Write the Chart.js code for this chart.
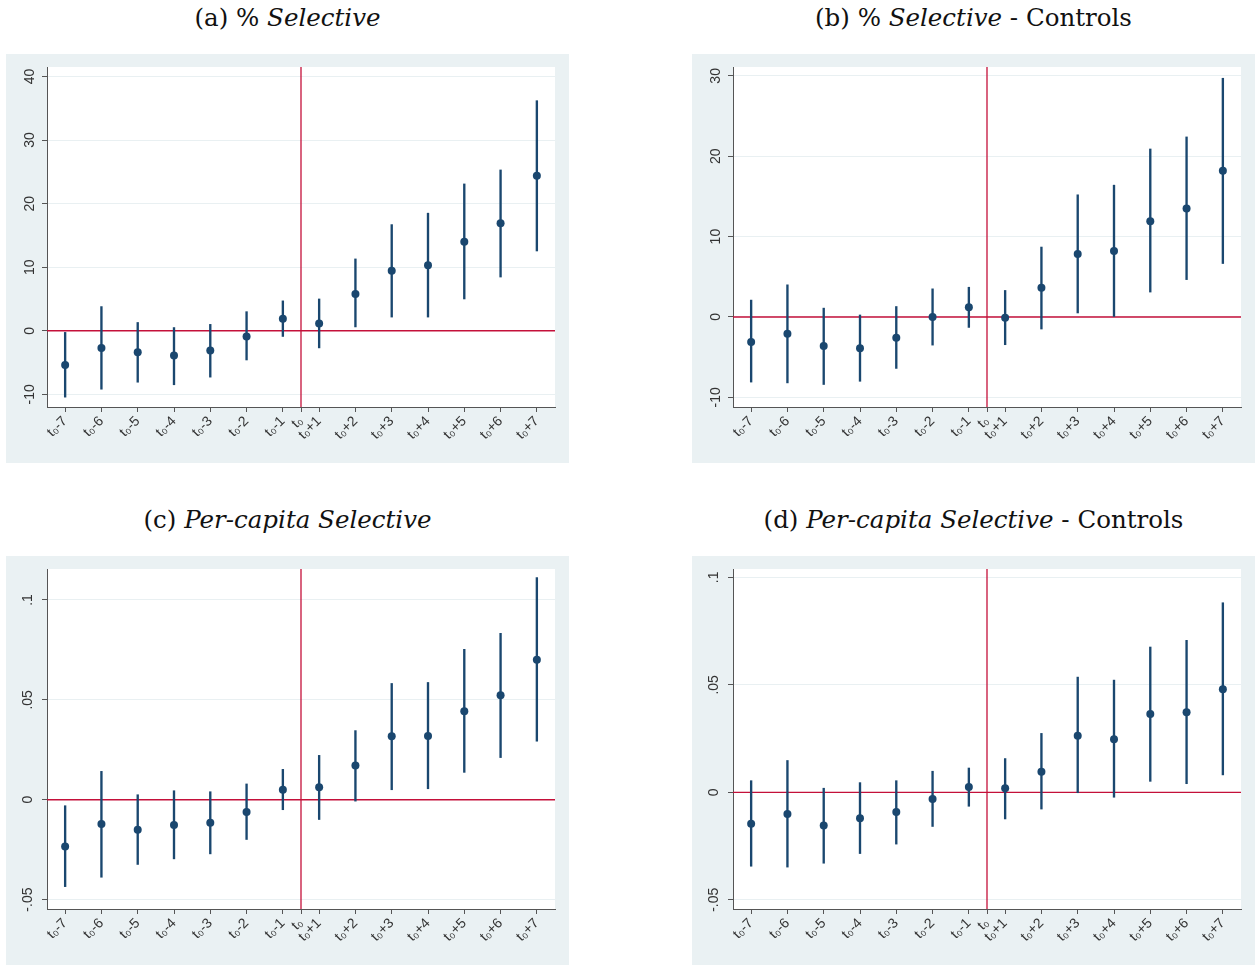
<!DOCTYPE html>
<html>
<head>
<meta charset="utf-8">
<script src="https://cdn.jsdelivr.net/npm/chart.js@4.4.0/dist/chart.umd.min.js"></script>
<style>
body{margin:0;background:#fff;width:1260px;height:967px;position:relative;overflow:hidden}
.ttl{position:absolute;width:563px;text-align:center;font-family:"DejaVu Serif",serif;font-size:24.5px;line-height:28px;color:#111;white-space:nowrap}
.box{position:absolute;width:563px;height:409px;background:#eaf1f3}
</style>
</head>
<body>
<div class="ttl" style="left:6px;top:4px">(a) % <i>Selective</i></div>
<div class="ttl" style="left:692px;top:4px">(b) % <i>Selective</i> - Controls</div>
<div class="ttl" style="left:6px;top:506px">(c) <i>Per-capita Selective</i></div>
<div class="ttl" style="left:692px;top:506px">(d) <i>Per-capita Selective</i> - Controls</div>

<div class="box" style="left:6px;top:54px"><canvas id="ca" width="563" height="409"></canvas></div>
<div class="box" style="left:692px;top:54px"><canvas id="cb" width="563" height="409"></canvas></div>
<div class="box" style="left:6px;top:556px"><canvas id="cc" width="563" height="409"></canvas></div>
<div class="box" style="left:692px;top:556px"><canvas id="cd" width="563" height="409"></canvas></div>

<script>
// periods around the event, t0 sits between t0-1 and t0+1
var periods = [1, 2, 3, 4, 5, 6, 7, 8, 9, 10, 11, 12, 13, 14];
var tickPos = [1, 2, 3, 4, 5, 6, 7, 7.5, 8, 9, 10, 11, 12, 13, 14];
var tickLabels = ["t₀-7", "t₀-6", "t₀-5", "t₀-4", "t₀-3", "t₀-2", "t₀-1", "t₀",
	"t₀+1", "t₀+2", "t₀+3", "t₀+4", "t₀+5", "t₀+6", "t₀+7"];
var eventPos = 7.5;

// (a) % Selective
var pctCoef = [-5.4, -2.7, -3.4, -3.9, -3.1, -0.9, 1.9, 1.15, 5.8, 9.45, 10.3, 14.0, 16.9, 24.4];
var pctLow = [-10.45, -9.2, -8.1, -8.5, -7.3, -4.6, -0.9, -2.7, 0.6, 2.15, 2.15, 5.0, 8.45, 12.55];
var pctHigh = [-0.26, 3.8, 1.3, 0.5, 1.0, 3.0, 4.7, 5.0, 11.3, 16.7, 18.5, 23.1, 25.3, 36.2];

// (b) % Selective - Controls
var pctCtrlCoef = [-3.1, -2.1, -3.6, -3.9, -2.6, 0.0, 1.2, -0.1, 3.65, 7.85, 8.2, 11.9, 13.5, 18.2];
var pctCtrlLow = [-8.1, -8.2, -8.4, -8.0, -6.4, -3.5, -1.3, -3.45, -1.5, 0.5, 0.0, 3.1, 4.65, 6.65];
var pctCtrlHigh = [2.1, 4.0, 1.1, 0.25, 1.3, 3.5, 3.7, 3.3, 8.7, 15.2, 16.4, 20.9, 22.4, 29.7];

// (c) Per-capita Selective
var pcCoef = [-0.0234, -0.0122, -0.015, -0.0127, -0.0115, -0.0062, 0.005, 0.0062, 0.0171, 0.0318, 0.0319, 0.0443, 0.0523, 0.0701];
var pcLow = [-0.0435, -0.0388, -0.0324, -0.0296, -0.0271, -0.0199, -0.005, -0.0099, -0.0007, 0.005, 0.0055, 0.0137, 0.0211, 0.0293];
var pcHigh = [-0.003, 0.0142, 0.0025, 0.0045, 0.004, 0.0079, 0.0152, 0.0222, 0.0346, 0.0582, 0.0587, 0.0753, 0.0833, 0.1112];

// (d) Per-capita Selective - Controls
var pcCtrlCoef = [-0.0146, -0.0101, -0.0155, -0.0121, -0.0092, -0.0031, 0.0025, 0.0019, 0.0096, 0.0263, 0.0247, 0.0364, 0.0373, 0.0479];
var pcCtrlLow = [-0.0344, -0.0348, -0.033, -0.0285, -0.0241, -0.0159, -0.0065, -0.0124, -0.0078, -0.0002, -0.0023, 0.0051, 0.004, 0.0081];
var pcCtrlHigh = [0.0054, 0.0148, 0.0019, 0.0045, 0.0054, 0.0098, 0.0113, 0.0157, 0.0274, 0.0536, 0.0522, 0.0676, 0.0707, 0.0882];

var navy = "#1a476f";
var red = "#c4103a";

function fmtY(v) {
	return String(Math.round(v * 10000) / 10000).replace(/^(-?)0\./, "$1.");
}

// white plot region like stata
var plotBg = {
	id: "plotBg",
	beforeDraw: function(chart) {
		var a = chart.chartArea, ctx = chart.ctx;
		ctx.save();
		ctx.fillStyle = "#ffffff";
		ctx.fillRect(a.left, a.top, a.right - a.left, a.bottom - a.top);
		ctx.restore();
	}
};

function makeChart(id, coef, low, high, yMin, yMax, yTicks) {
	var pts = [], bars = [];
	for (var i = 0; i < periods.length; i++) {
		pts.push({x: periods[i], y: coef[i]});
		bars.push({x: periods[i], y: [low[i], high[i]]});
	}
	return new Chart(document.getElementById(id), {
		type: "scatter",
		plugins: [plotBg],
		data: {
			datasets: [
				{type: "scatter", data: pts, pointRadius: 4, pointHoverRadius: 4,
					backgroundColor: navy, borderWidth: 0, order: 1},
				{type: "bar", data: bars, backgroundColor: navy, barThickness: 1.7,
					borderWidth: 0, order: 2},
				{type: "line", data: [{x: 0.5, y: 0}, {x: 14.5, y: 0}], borderColor: red,
					borderWidth: 1.3, pointRadius: 0, order: 3},
				{type: "line", data: [{x: eventPos, y: yMin}, {x: eventPos, y: yMax}], borderColor: red,
					borderWidth: 1.3, pointRadius: 0, order: 3}
			]
		},
		options: {
			responsive: false,
			animation: false,
			layout: {padding: {left: 0, top: 13, right: 14, bottom: 0}},
			plugins: {legend: {display: false}, tooltip: {enabled: false}},
			scales: {
				x: {
					type: "linear", min: 0.5, max: 14.5, offset: false,
					afterBuildTicks: function(s) { s.ticks = tickPos.map(function(v) { return {value: v}; }); },
					afterFit: function(s) { s.height = 56; },
					grid: {drawOnChartArea: false, offset: false, tickColor: "#555", tickLength: 5},
					border: {color: "#555", width: 1},
					ticks: {
						autoSkip: false, minRotation: 45, maxRotation: 45, padding: 1,
						color: "#333", font: {family: "Liberation Sans", size: 14},
						callback: function(v, i) { return tickLabels[i]; }
					}
				},
				y: {
					type: "linear", min: yMin, max: yMax,
					afterBuildTicks: function(s) { s.ticks = yTicks.map(function(v) { return {value: v}; }); },
					afterFit: function(s) { s.width = 41; },
					grid: {color: "#e9f0f2", lineWidth: 1, tickColor: "#555", tickLength: 5},
					border: {color: "#555", width: 1},
					ticks: {
						minRotation: 90, maxRotation: 90, crossAlign: "center", padding: 2,
						color: "#333", font: {family: "Liberation Sans", size: 14},
						callback: function(v) { return fmtY(v); }
					}
				}
			}
		}
	});
}

makeChart("ca", pctCoef, pctLow, pctHigh, -12, 41.5, [-10, 0, 10, 20, 30, 40]);
makeChart("cb", pctCtrlCoef, pctCtrlLow, pctCtrlHigh, -11.2, 31.1, [-10, 0, 10, 20, 30]);
makeChart("cc", pcCoef, pcLow, pcHigh, -0.0547, 0.1155, [-0.05, 0, 0.05, 0.1]);
makeChart("cd", pcCtrlCoef, pcCtrlLow, pcCtrlHigh, -0.0543, 0.1039, [-0.05, 0, 0.05, 0.1]);
</script>
</body>
</html>
